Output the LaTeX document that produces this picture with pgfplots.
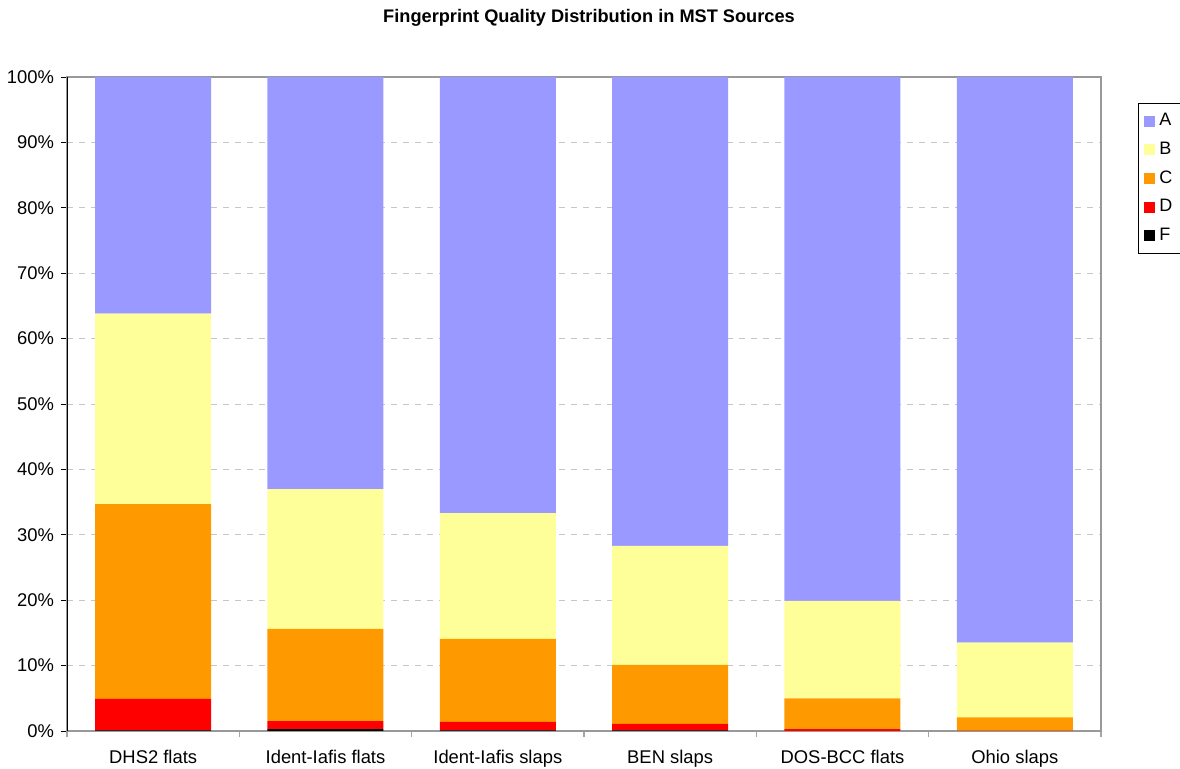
\documentclass[border=0pt]{standalone}
\usepackage{fontspec}
\setmainfont{Liberation Sans}
\usepackage{pgfplots}
\pgfplotsset{compat=1.18}
\definecolor{cA}{HTML}{9999FF}
\definecolor{cB}{HTML}{FFFF99}
\definecolor{cC}{HTML}{FF9900}
\definecolor{cD}{HTML}{FF0000}
\definecolor{cF}{HTML}{000000}
\begin{document}
\begin{tikzpicture}
\begin{axis}[
  at={(0,0)}, anchor=south west,
  scale only axis, width=517pt, height=327pt,
  ybar stacked, bar width=58pt,
  xmin=-0.5, xmax=5.5, ymin=0, ymax=100,
  xtick={0,1,2,3,4,5},
  xticklabels={DHS2 flats, Ident-Iafis flats, Ident-Iafis slaps, BEN slaps, DOS-BCC flats, Ohio slaps},
  major x tick style={draw=none},
  minor xtick={-0.5,0.5,1.5,2.5,3.5,4.5,5.5},
  minor x tick style={draw=gray!70, thick},
  minor tick length=3pt,
  major tick length=3pt,
  tick align=outside,
  xtick pos=bottom, ytick pos=left,
  ytick={0,10,...,100},
  yticklabel={\pgfmathprintnumber{\tick}\%},
  /pgf/number format/assume math mode=true,
  ticklabel style={font=\fontsize{9.2}{11}\selectfont},
  xticklabel style={yshift=-3pt},
  ymajorgrids, grid style={dash pattern=on 3pt off 3pt, gray!45},
  axis line style={draw=gray!80, thick},
  y tick style={black, thin},
  legend style={at={(rel axis cs:1.0358,0.960)}, anchor=north west,
     draw=black, thin, font=\fontsize{9}{10}\selectfont,
     row sep=2.6pt, inner xsep=3pt, inner ysep=3pt},
  legend cell align=left,
  reverse legend,
  legend image code/.code={\fill[#1,draw=none] (0pt,-2.7pt) rectangle (5.5pt,2.7pt);},
]
\addplot[fill=cF, draw=none] coordinates {(0,0.1) (1,0.3) (2,0.1) (3,0.1) (4,0.0) (5,0.0)};
\addplot[fill=cD, draw=none] coordinates {(0,4.8) (1,1.2) (2,1.3) (3,1.0) (4,0.3) (5,0.05)};
\addplot[fill=cC, draw=none] coordinates {(0,29.8) (1,14.1) (2,12.7) (3,9.0) (4,4.7) (5,2.05)};
\addplot[fill=cB, draw=none] coordinates {(0,29.1) (1,21.4) (2,19.2) (3,18.2) (4,14.9) (5,11.4)};
\addplot[fill=cA, draw=none] coordinates {(0,36.2) (1,63.0) (2,66.7) (3,71.7) (4,80.1) (5,86.5)};
\legend{F,D,C,B,A}
\draw[black, thin] (rel axis cs:0,0) -- (rel axis cs:0,1);
\end{axis}
\node[font=\bfseries\fontsize{9.1}{11}\selectfont] at (261pt,356.5pt) {Fingerprint Quality Distribution in MST Sources};
\pgfresetboundingbox
\useasboundingbox (-33.5pt,-19pt) rectangle (556.5pt,365.5pt);
\end{tikzpicture}
\end{document}
